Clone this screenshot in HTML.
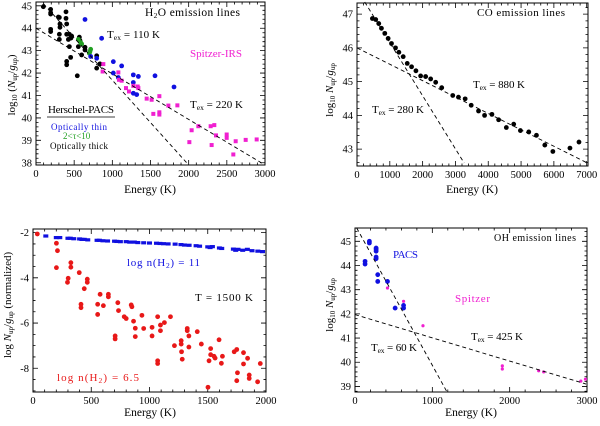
<!DOCTYPE html>
<html><head><meta charset="utf-8"><style>
body{margin:0;background:#fff;width:600px;height:421px;overflow:hidden}
svg text{font-family:"Liberation Serif",serif}
</style></head><body>
<svg id="c" width="600" height="421" viewBox="0 0 600 421" xmlns="http://www.w3.org/2000/svg"></svg>
<script>
// ---- Panel 1: H2O ----
const h2oBlackE=[96,192,192,192,192,192,293,306,314,314,306,306,393,393,402,402,424,402,402,437,437,467,454,458,541,568,576,555,598,642,642,795,795,838];
const h2oBlackY=[44.96,44.84,44.69,44.63,43.95,43.85,44.5,44.48,44.19,44.04,43.73,43.5,44.73,44.44,44.19,43.73,43.5,42.52,42.37,43.73,43.18,43.65,42.7,43.56,41.88,43.6,43.45,43.18,42.81,43.15,43.03,42.77,42.22,42.41];
const h2oGreenE=[555,585,598,699,716,707];
const h2oGreenY=[43.5,43.36,43.3,42.88,43.06,42.96];
const h2oBlueE=[642,860,716,795,1013,1013,1122,1079,1275,1275,1341,1319,1275,1559,1808];
const h2oBlueY=[44.39,43.55,42.74,42.66,42.51,42.0,42.32,41.8,41.92,41.58,41.85,41.04,41.1,41.88,41.38];
const h2oMagE=[882,873,1079,1087,1122,1179,1218,1275,1332,1341,1450,1515,1537,1616,1616,1616,1734,1852,2009,2039,2127,2288,2301,2336,2358,2498,2498,2585,2616,2747,2891];
const h2oMagY=[42.4,42.07,42.03,41.7,41.66,41.33,41.18,41.43,41.4,41.33,40.86,40.81,40.18,40.97,40.25,40.15,40.55,40.56,38.92,39.45,39.63,39.63,38.79,39.68,39.22,39.26,39.11,38.37,38.96,39.02,39.04];
const h2oFitE=[[0,3000],[96,1974]];
const h2oFitY=[[44.0,37.9],[45.1,38.0]];
// ---- Panel 2: CO ----
const coE=[469,571,663,745,847,949,1051,1173,1276,1408,1531,1663,1796,1939,2092,2245,2398,2582,2918,3092,3296,3480,3704,3888,4112,4316,4551,4776,4980,5235,5469,5724,5969,6490,6765];
const coY=[46.87,46.84,46.72,46.58,46.43,46.28,46.13,46.0,45.87,45.74,45.54,45.44,45.32,45.17,45.15,45.08,44.98,44.82,44.59,44.54,44.49,44.3,44.13,44.0,44.03,43.87,43.64,43.74,43.55,43.51,43.41,43.12,42.93,43.03,43.21];
const coFitE=[[235,3265],[0,7020]];
const coFitY=[[47.36,42.59],[46.0,42.59]];
// ---- Panel 3: models ----
const modBlueE=[110,200,230,300,320,350,400,420,440,470,550,570,600,640,700,720,750,800,830,870,900,950,1000,1060,1090,1120,1160,1220,1270,1300,1340,1400,1430,1500,1520,1540,1600,1620,1720,1740,1760,1800,1840,1880,1930,1970];
const modBlueY=[-2.15,-2.22,-2.22,-2.25,-2.25,-2.27,-2.28,-2.3,-2.3,-2.32,-2.34,-2.34,-2.36,-2.37,-2.38,-2.39,-2.4,-2.4,-2.42,-2.42,-2.44,-2.45,-2.46,-2.47,-2.48,-2.49,-2.5,-2.51,-2.53,-2.55,-2.56,-2.58,-2.6,-2.63,-2.66,-2.62,-2.68,-2.7,-2.73,-2.78,-2.74,-2.78,-2.74,-2.8,-2.82,-2.84];
const modRedE=[37,201,210,201,325,325,302,296,397,440,412,412,466,466,555,555,576,604,647,647,728,734,783,800,843,849,863,878,878,935,950,1022,1022,705,705,1070,1094,1094,1128,1180,1070,1070,1214,1272,1272,1275,1281,1324,1324,1338,1338,1410,1445,1511,1502,1525,1525,1554,1563,1597,1617,1626,1727,1749,1755,1749,1807,1807,1842,1856,1856,1928,1951];
const modRedY=[-2.06,-2.47,-2.8,-3.55,-3.33,-3.53,-4.02,-4.2,-3.77,-4.48,-5.17,-5.32,-4.06,-4.2,-5.17,-5.62,-4.73,-5.23,-4.73,-4.84,-5.1,-5.45,-5.72,-5.8,-5.2,-5.28,-5.92,-6.23,-6.6,-5.66,-6.24,-6.19,-6.57,-6.57,-6.7,-5.72,-6.09,-6.34,-5.98,-5.72,-7.67,-7.79,-7.0,-6.78,-6.93,-7.27,-7.6,-6.24,-6.34,-6.57,-7.06,-6.38,-6.93,-7.67,-8.84,-7.13,-7.4,-7.47,-7.55,-6.74,-7.78,-7.47,-7.27,-7.17,-8.2,-8.55,-7.31,-7.81,-7.56,-8.3,-8.45,-8.6,-7.79];
// ---- Panel 4: OH ----
const ohBlueE=[130,130,186,186,273,273,273,273,273,294,294,420,519,628,628];
const ohBlueY=[44.17,44.06,45.0,44.93,44.72,44.66,44.59,44.35,44.28,43.62,43.34,43.34,42.24,42.35,42.24];
const ohMagE=[420,628,879,1905,1905,2375,2440,2920,2980];
const ohMagY=[43.07,42.52,41.51,39.85,39.72,39.65,39.6,39.22,39.3];
const ohFitE=[[22,1190],[0,2987]];
const ohFitY=[[45.55,38.77],[41.97,39.1]];

const NS='http://www.w3.org/2000/svg';
const svg=document.getElementById('c');
function mk(tag,attrs,parent){const e=document.createElementNS(NS,tag);for(const k in attrs)e.setAttribute(k,attrs[k]);(parent||svg).appendChild(e);return e;}
function txt(s,x,y,attrs,parent){const e=mk('text',Object.assign({x:x,y:y,'font-size':11},attrs||{}),parent);e.innerHTML=s;return e;}

function panel(name,L,R,T,B,x0,x1,y0,y1,xMaj,xMin,yMaj,yMin,xticks,yticks){
  const g=mk('g',{});
  
  
  const sx=v=>L+(v-x0)/(x1-x0)*(R-L);
  const sy=v=>B-(v-y0)/(y1-y0)*(B-T);
  const fr=mk('rect',{x:L,y:T,width:R-L,height:B-T,fill:'none',stroke:'#000','stroke-width':1},g);
  
  
  let d='';
  for(let v=Math.ceil(x0/xMin)*xMin;v<=x1+1e-6;v+=xMin){const X=sx(v);const maj=Math.abs(v/xMaj-Math.round(v/xMaj))<1e-6;const l=maj?5:2.5;d+=`M${X} ${B}v${-l}M${X} ${T}v${l}`;}
  for(let v=Math.ceil(y0/yMin-1e-6)*yMin;v<=y1+1e-6;v+=yMin){const Y=sy(v);const maj=Math.abs(v/yMaj-Math.round(v/yMaj))<1e-6;const l=maj?5:2.5;d+=`M${L} ${Y}h${l}M${R} ${Y}h${-l}`;}
  mk('path',{d:d,stroke:'#000','stroke-width':0.8,fill:'none'},g);
  xticks.forEach(v=>{const t=txt(v,sx(v),B+12,{'text-anchor':'middle','font-size':10.5},g);});
  yticks.forEach(v=>{const t=txt(v,L-4,sy(v)+3.5,{'text-anchor':'end','font-size':10.5},g);});
  return {g,sx,sy};
}
function pts(p,E,Y,color,shape,r,name){
  E.forEach((e,i)=>{let m;
    if(shape==='sq')m=mk('rect',{x:p.sx(e)-r,y:p.sy(Y[i])-r,width:2*r,height:2*r,fill:color},p.g);
    else if(shape==='dash')m=mk('rect',{x:p.sx(e)-2.5,y:p.sy(Y[i])-1.6,width:5,height:3.2,fill:color},p.g);
    else m=mk('circle',{cx:p.sx(e),cy:p.sy(Y[i]),r:r,fill:color},p.g);
    
    
  });
}
function fits(p,E,Y,name){
  E.forEach((e,i)=>{const l=mk('line',{x1:p.sx(e[0]),y1:p.sy(Y[i][0]),x2:p.sx(e[1]),y2:p.sy(Y[i][1]),stroke:'#000','stroke-width':0.9,'stroke-dasharray':'4,3'},p.g);
    
    });
}

// Panel 1
const p1=panel('h2o-panel',36,265,2,165,0,3000,37.9,45.17,500,100,1,0.2,[0,500,1000,1500,2000,2500,3000],[38,39,40,41,42,43,44,45]);
pts(p1,h2oBlackE,h2oBlackY,'#000','c',2.4,'h2o-thick-point');
pts(p1,h2oGreenE,h2oGreenY,'#22a022','c',2.4,'h2o-mid-point');
pts(p1,h2oBlueE,h2oBlueY,'#1010e0','c',2.4,'h2o-thin-point');
pts(p1,h2oMagE,h2oMagY,'#f020d0','sq',2,'h2o-spitzer-point');
fits(p1,h2oFitE,h2oFitY,'h2o-fit-line');
txt('H<tspan font-size="7.5" dy="2">2</tspan><tspan dy="-2">O emission lines</tspan>',145,16,{'font-size':11.5,textLength:95});
txt('T<tspan font-size="7.5" dy="2">ex</tspan><tspan dy="-2"> = 110 K</tspan>',107,38,{textLength:53});
txt('Spitzer-IRS',190,57,{fill:'#f020d0',textLength:52});
txt('T<tspan font-size="7.5" dy="2">ex</tspan><tspan dy="-2"> = 220 K</tspan>',190,108,{textLength:53});
txt('Herschel-PACS',48,113,{textLength:66});
mk('line',{x1:47,y1:117,x2:115,y2:117,stroke:'#000','stroke-width':0.7});
txt('Optically thin',51,130,{fill:'#1010e0','font-size':9,textLength:56});
txt('2&lt;τ&lt;10',63,139,{fill:'#22a022','font-size':9});
txt('Optically thick',50,149,{'font-size':9,textLength:58});
txt('Energy (K)',150,193,{'text-anchor':'middle','font-size':11.5});
txt('log<tspan font-size="7" dy="2">10</tspan><tspan dy="-2"> (</tspan><tspan font-style="italic">N</tspan><tspan font-size="7" dy="2">up</tspan><tspan dy="-2">/</tspan><tspan font-style="italic">g</tspan><tspan font-size="7" dy="2">up</tspan><tspan dy="-2">)</tspan>',0,0,{transform:'translate(15,85) rotate(-90)','text-anchor':'middle','font-size':11});

// Panel 2
const p2=panel('co-panel',357,588,3,166,0,7040,42.5,47.33,1000,200,1,0.2,[0,1000,2000,3000,4000,5000,6000,7000],[43,44,45,46,47]);
pts(p2,coE,coY,'#000','c',2.4,'co-point');
fits(p2,coFitE,coFitY,'co-fit-line');
txt('CO emission lines',477,16,{textLength:88});
txt('T<tspan font-size="7.5" dy="2">ex</tspan><tspan dy="-2"> = 880 K</tspan>',473,88,{textLength:52});
txt('T<tspan font-size="7.5" dy="2">ex</tspan><tspan dy="-2"> = 280 K</tspan>',372,113,{textLength:52});
txt('Energy (K)',472,193,{'text-anchor':'middle','font-size':11.5});
txt('log<tspan font-size="7" dy="2">10</tspan><tspan dy="-2"> </tspan><tspan font-style="italic">N</tspan><tspan font-size="7" dy="2">up</tspan><tspan dy="-2">/</tspan><tspan font-style="italic">g</tspan><tspan font-size="7" dy="2">up</tspan>',0,0,{transform:'translate(333,90) rotate(-90)','text-anchor':'middle','font-size':11});

// Panel 3
const p3=panel('model-panel',33,266,229,392,0,2000,-9.05,-1.84,500,100,2,0.5,[0,500,1000,1500,2000],[-2,-4,-6,-8]);
pts(p3,modBlueE,modBlueY,'#1010e0','dash',1.8,'high-density-point');
pts(p3,modRedE,modRedY,'#e81818','c',2.4,'low-density-point');
txt('log n(H<tspan font-size="7.5" dy="2">2</tspan><tspan dy="-2">) = 11</tspan>',127,266,{fill:'#1010e0',textLength:73});
txt('T = 1500 K',195,301,{textLength:58});
txt('log n(H<tspan font-size="7.5" dy="2">2</tspan><tspan dy="-2">) = 6.5</tspan>',57,381,{fill:'#e81818',textLength:82});
txt('Energy (K)',150,416,{'text-anchor':'middle','font-size':11.5});
txt('log <tspan font-style="italic">N</tspan><tspan font-size="7" dy="2">up</tspan><tspan dy="-2">/</tspan><tspan font-style="italic">g</tspan><tspan font-size="7" dy="2">up</tspan><tspan dy="-2"> (normalized)</tspan>',0,0,{transform:'translate(11,305) rotate(-90)','text-anchor':'middle','font-size':11});

// Panel 4
const p4=panel('oh-panel',355,587,228,392,0,3000,38.77,45.55,1000,200,1,0.2,[0,1000,2000,3000],[39,40,41,42,43,44,45]);
pts(p4,ohBlueE,ohBlueY,'#1010e0','c',2.4,'oh-pacs-point');
pts(p4,ohMagE,ohMagY,'#f020d0','c',1.6,'oh-spitzer-point');
fits(p4,ohFitE,ohFitY,'oh-fit-line');
txt('OH emission lines',494,241,{'font-size':10,textLength:82});
txt('PACS',393,258,{fill:'#1010e0',textLength:25});
txt('Spitzer',455,302,{fill:'#f020d0',textLength:35});
txt('T<tspan font-size="7.5" dy="2">ex</tspan><tspan dy="-2"> = 425 K</tspan>',471,340,{textLength:52});
txt('T<tspan font-size="7.5" dy="2">ex</tspan><tspan dy="-2"> = 60 K</tspan>',371,351,{textLength:46});
txt('Energy (K)',471,416,{'text-anchor':'middle','font-size':11.5});
txt('log<tspan font-size="7" dy="2">10</tspan><tspan dy="-2"> </tspan><tspan font-style="italic">N</tspan><tspan font-size="7" dy="2">up</tspan><tspan dy="-2">/</tspan><tspan font-style="italic">g</tspan><tspan font-size="7" dy="2">up</tspan>',0,0,{transform:'translate(333,305) rotate(-90)','text-anchor':'middle','font-size':11});
</script>
</body></html>
